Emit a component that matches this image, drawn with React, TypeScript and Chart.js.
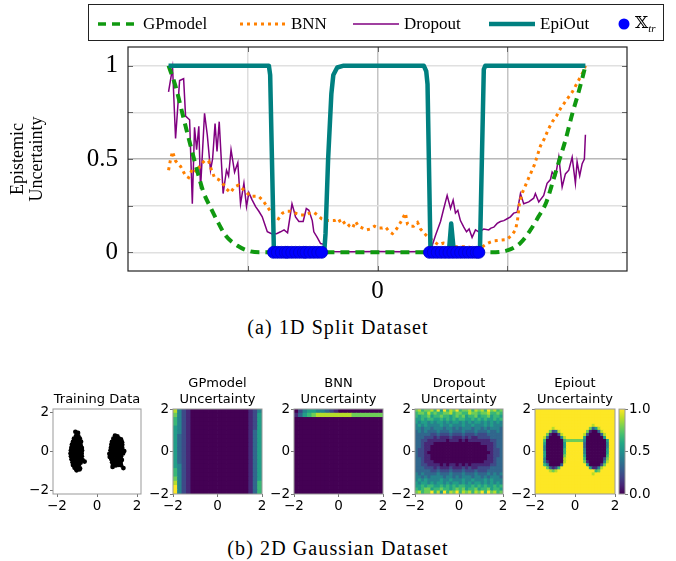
import React, { useEffect, useRef } from 'react';
import { Chart, registerables } from 'chart.js';
Chart.register(...registerables);

// ---------------- Top chart data (x in plot units, y = epistemic uncertainty) ----------------
const GP_X = [-1.608, -1.554, -1.5, -1.438, -1.385, -1.338, -1.285, -1.223, -1.169, -1.077, -0.977, -0.885, 0, 0.79, 0.869, 1.0, 1.1, 1.177, 1.238, 1.3, 1.354, 1.4, 1.446, 1.5, 1.538, 1.577, 1.6];
const GP_Y = [1.0, 0.89, 0.74, 0.57, 0.43, 0.32, 0.24, 0.155, 0.09, 0.035, 0.005, 0, 0, 0, 0, 0.01, 0.05, 0.12, 0.19, 0.27, 0.39, 0.495, 0.6, 0.745, 0.835, 0.935, 1.0];

const BNN_X = [-1.608, -1.592, -1.577, -1.554, -1.515, -1.477, -1.454, -1.423, -1.392, -1.362, -1.331, -1.3, -1.277, -1.254, -1.223, -1.192, -1.162, -1.131, -1.1, -1.069, -1.038, -1.008, -0.977, -0.946, -0.915, -0.885, -0.854, -0.823, -0.792, -0.762, -0.731, -0.7, -0.669, -0.631, -0.592, -0.554, -0.523, -0.492, -0.462, -0.431, -0.392, -0.362, -0.331, -0.3, -0.277, -0.246, -0.215, -0.192, -0.169, -0.146, -0.115, -0.085, -0.054, -0.023, 0.008, 0.038, 0.062, 0.092, 0.115, 0.146, 0.177, 0.2, 0.215, 0.231, 0.254, 0.277, 0.308, 0.331, 0.362, 0.392, 0.431, 0.469, 0.508, 0.546, 0.6, 0.654, 0.7, 0.738, 0.777, 0.808, 0.838, 0.869, 0.9, 0.946, 0.992, 1.031, 1.062, 1.077, 1.092, 1.115, 1.146, 1.177, 1.208, 1.231, 1.254, 1.285, 1.315, 1.346, 1.377, 1.408, 1.438, 1.469, 1.5, 1.531, 1.562, 1.585, 1.6];
const BNN_Y = [0.44, 0.5, 0.54, 0.49, 0.46, 0.41, 0.4, 0.45, 0.43, 0.47, 0.49, 0.49, 0.44, 0.4, 0.39, 0.37, 0.34, 0.32, 0.35, 0.36, 0.34, 0.32, 0.3, 0.3, 0.3, 0.28, 0.25, 0.22, 0.19, 0.18, 0.21, 0.22, 0.22, 0.21, 0.2, 0.2, 0.21, 0.215, 0.2, 0.18, 0.17, 0.17, 0.17, 0.18, 0.15, 0.165, 0.14, 0.13, 0.165, 0.14, 0.13, 0.12, 0.125, 0.14, 0.13, 0.13, 0.135, 0.11, 0.1, 0.125, 0.16, 0.19, 0.21, 0.15, 0.14, 0.14, 0.16, 0.125, 0.1, 0.08, 0.06, 0.04, 0.05, 0.045, 0.03, 0.03, 0.03, 0.02, 0.025, 0.03, 0.045, 0.055, 0.062, 0.065, 0.068, 0.09, 0.12, 0.17, 0.26, 0.32, 0.37, 0.42, 0.47, 0.52, 0.57, 0.61, 0.66, 0.7, 0.73, 0.77, 0.8, 0.83, 0.86, 0.9, 0.94, 0.97, 1.0];

const DROP_X = [-1.608, -1.577, -1.554, -1.523, -1.492, -1.477, -1.446, -1.425, -1.408, -1.392, -1.375, -1.362, -1.331, -1.31, -1.285, -1.269, -1.25, -1.235, -1.218, -1.188, -1.162, -1.146, -1.127, -1.1, -1.075, -1.054, -1.028, -1.008, -0.99, -0.964, -0.938, -0.913, -0.887, -0.848, -0.815, -0.777, -0.746, -0.719, -0.692, -0.658, -0.642, -0.631, -0.605, -0.572, -0.548, -0.528, -0.502, -0.49, -0.464, -0.438, -0.413, -0.392, -0.2, 0.0, 0.2, 0.392, 0.408, 0.446, 0.485, 0.51, 0.536, 0.562, 0.582, 0.6, 0.618, 0.638, 0.664, 0.685, 0.705, 0.728, 0.754, 0.779, 0.818, 0.856, 0.873, 0.895, 0.921, 0.946, 0.972, 0.998, 1.023, 1.048, 1.075, 1.1, 1.125, 1.164, 1.202, 1.215, 1.241, 1.279, 1.305, 1.331, 1.344, 1.369, 1.395, 1.421, 1.446, 1.472, 1.498, 1.523, 1.536, 1.556, 1.575, 1.592, 1.6];
const DROP_Y = [0.86, 0.99, 0.61, 0.92, 0.93, 0.73, 0.71, 0.26, 0.67, 0.55, 0.675, 0.34, 0.745, 0.63, 0.44, 0.5, 0.69, 0.54, 0.7, 0.315, 0.44, 0.41, 0.55, 0.43, 0.48, 0.26, 0.37, 0.245, 0.32, 0.28, 0.245, 0.22, 0.19, 0.11, 0.1, 0.1, 0.11, 0.12, 0.105, 0.26, 0.22, 0.19, 0.165, 0.165, 0.235, 0.225, 0.17, 0.11, 0.08, 0.047, 0.043, 0.005, 0.003, 0.004, 0.003, 0.004, 0.01, 0.09, 0.165, 0.235, 0.305, 0.235, 0.28, 0.21, 0.225, 0.17, 0.135, 0.11, 0.125, 0.08, 0.12, 0.11, 0.125, 0.12, 0.13, 0.135, 0.155, 0.165, 0.17, 0.18, 0.19, 0.21, 0.215, 0.315, 0.26, 0.27, 0.29, 0.315, 0.27, 0.305, 0.37, 0.39, 0.43, 0.405, 0.51, 0.35, 0.42, 0.44, 0.51, 0.37, 0.485, 0.41, 0.475, 0.5, 0.63];

const EPI_X = [-1.608, -0.836, -0.826, -0.797, -0.41, -0.4, -0.38, -0.355, -0.34, -0.31, -0.26, 0.356, 0.375, 0.385, 0.408, 0.549, 0.567, 0.588, 0.788, 0.818, 0.83, 1.6];
const EPI_Y = [1, 1, 0.95, 0, 0, 0.1, 0.5, 0.85, 0.95, 0.99, 1, 1, 0.97, 0.9, 0, 0, 0.154, 0, 0, 0.98, 1, 1];

const TRAIN_1D_X = [-0.8, -0.77, -0.74, -0.71, -0.69, -0.66, -0.63, -0.6, -0.57, -0.55, -0.52, -0.49, -0.46, -0.43, 0.4, 0.43, 0.46, 0.49, 0.52, 0.55, 0.58, 0.61, 0.64, 0.67, 0.7, 0.73, 0.76, 0.78];

const TOP_X_TICKS = [-1, 0, 1];
const TOP_Y_TICKS = [0, 0.25, 0.5, 0.75, 1];
const TOP_Y_LABELS: Record<string, string> = { '0': '0', '0.5': '0.5', '1': '1' };

// ---------------- 2D panels ----------------
const TRAIN2D_X = [-1.05, -0.93, -1.15, -1.0, -0.86, -1.2, -1.06, -0.92, -0.8, -1.25, -1.1, -0.96, -0.82, -1.28, -1.13, -0.98, -0.84, -0.76, -1.3, -1.15, -1.0, -0.86, -0.75, -1.32, -1.17, -1.02, -0.88, -0.77, -1.3, -1.15, -1.0, -0.86, -0.76, -1.27, -1.12, -0.97, -0.83, -0.72, -1.22, -1.08, -0.94, -0.82, -0.62, -1.2, -1.05, -0.9, -1.12, -0.98, -0.85, -1.08, -0.95, -1.02, -0.88,
  0.9, 1.02, 0.82, 0.96, 1.1, 1.2, 0.75, 0.88, 1.02, 1.16, 1.25, 0.72, 0.86, 1.0, 1.14, 1.26, 0.7, 0.84, 0.98, 1.12, 1.26, 0.68, 0.82, 0.96, 1.1, 1.24, 1.36, 0.62, 0.76, 0.9, 1.04, 1.18, 1.3, 0.64, 0.78, 0.92, 1.06, 1.2, 0.72, 0.86, 1.0, 1.14, 1.24, 0.76, 0.9, 1.04, 1.18, 0.8, 0.94, 1.08, 1.2, 0.78, 1.32];
const TRAIN2D_Y = [0.8, 0.78, 0.66, 0.64, 0.67, 0.5, 0.52, 0.49, 0.51, 0.36, 0.34, 0.37, 0.33, 0.2, 0.22, 0.19, 0.21, 0.18, 0.06, 0.04, 0.07, 0.03, 0.05, -0.1, -0.12, -0.08, -0.11, -0.09, -0.25, -0.27, -0.23, -0.26, -0.24, -0.4, -0.42, -0.38, -0.41, -0.45, -0.55, -0.57, -0.54, -0.58, -0.52, -0.7, -0.72, -0.69, -0.84, -0.86, -0.88, 1.02, 0.96, -0.97, -0.93,
  0.82, 0.78, 0.66, 0.64, 0.67, 0.62, 0.5, 0.52, 0.49, 0.51, 0.48, 0.36, 0.34, 0.37, 0.33, 0.35, 0.2, 0.22, 0.19, 0.21, 0.18, 0.06, 0.04, 0.07, 0.03, 0.05, 0.02, -0.12, -0.1, -0.08, -0.11, -0.09, -0.1, -0.28, -0.25, -0.23, -0.26, -0.24, -0.4, -0.42, -0.38, -0.41, -0.44, -0.55, -0.57, -0.54, -0.58, -0.7, -0.72, -0.69, -0.71, -0.8, -0.86];

// uncertainty grids, rows from y=+2 (top) to y=-2 (bottom), columns from x=-2 to x=+2, digit d = d/9
const GP_GRID = [
  '84210000000000000124',
  '74210000000000000125',
  '64210000000000000125',
  '64210000000000000125',
  '54210000000000000125',
  '54210000000000000135',
  '53210000000000000135',
  '53210000000000000135',
  '53210000000000000135',
  '53210000000000000135',
  '53210000000000000135',
  '53210000000000000135',
  '53210000000000000135',
  '54210000000000000135',
  '64210000000000000135',
  '64210000000000000135',
  '74210000000000000135',
  '84210000000000000136',
  '94210000000000000136',
  '94210000000000000136',
];
const BNN_GRID = [
  '02455443210000000000',
  '13567888888887777777',
  '00000000000000000000',
  '00000000000000000000',
  '00000000000000000000',
  '00000000000000000000',
  '00000000000000000000',
  '00000000000000000000',
  '00000000000000000000',
  '00000000000000000000',
  '00000000000000000000',
  '00000000000000000000',
  '00000000000000000000',
  '00000000000000000000',
  '00000000000000000000',
  '00000000000000000000',
  '00000000000000000000',
  '00000000000000000000',
  '00000000000000000000',
  '00000000000000000000',
];
const DROP_GRID = [
  '7867786959687967786878697867',
  '6776867667786776687767786676',
  '6566756676656767566756675665',
  '5565665565656566556565655656',
  '5455454554545545454554545454',
  '4545444454454445445444545444',
  '4434434443443434443443434443',
  '3434333433343334333433343343',
  '3333322322232223222322233333',
  '3332221211121112121122223333',
  '3322111111011101011111112233',
  '3321110000000000000001111233',
  '3321100000000000000000011233',
  '3221100000000000000000011223',
  '3221000000000000000000001223',
  '3221100000000000000000011223',
  '3321100000000000000000011233',
  '3321110000000000000000111233',
  '3322111101011010101111112233',
  '3332221211121112121122223333',
  '3333322322232223222322233333',
  '4343333433343334333433343434',
  '4434344443443434443443434443',
  '4545444454454445445444545444',
  '5455454554545545454554545454',
  '5565665565656566556565655656',
  '6567756676656767566756675665',
  '7867796859687968786879697867',
];
const EPI_GRID = [
  '9999999999999999999999999999',
  '9999999999999999999999999999',
  '9999999999999999999999999999',
  '9999999999999999999999999999',
  '9999999999999999999999999999',
  '9999999999999999999989999999',
  '9999998999999999999735899999',
  '9999972389999999997100389999',
  '9999710028999999982000038999',
  '9998300004899999950000005999',
  '9996000000677777740000000599',
  '9995000000599999930000000499',
  '9994000000599999930000000499',
  '9994000000699999940000000599',
  '9995000000699999940000000599',
  '9995000000799999950000000699',
  '9994000000899999960000002799',
  '9994100000899999971000004899',
  '9996400003999999995000027999',
  '9999731269999999999511489999',
  '9999987899999999999996799999',
  '9999999999999999999989999999',
  '9999999999999999999999999999',
  '9999999999999999999999999999',
  '9999999999999999999999999999',
  '9999999999999999999999999999',
  '9999999999999999999999999999',
  '9999999999999999999999999999',
];
const PANEL_TICKS = [-2, 0, 2];
const CBAR_TICKS = [0, 0.5, 1];

// ---------------- styles ----------------
const VIRIDIS = ['#440154', '#482475', '#414487', '#355f8d', '#2a788e', '#21918c', '#22a884', '#44bf70', '#7ad151', '#bddf26', '#fde725'];
function hexToRgb(h: string) { return [parseInt(h.slice(1, 3), 16), parseInt(h.slice(3, 5), 16), parseInt(h.slice(5, 7), 16)]; }
function viridis(t: number) {
  const p = Math.max(0, Math.min(1, t)) * 10;
  const i = Math.min(9, Math.floor(p));
  const f = p - i;
  const a = hexToRgb(VIRIDIS[i]), b = hexToRgb(VIRIDIS[i + 1]);
  const c = a.map((v, k) => Math.round(v + (b[k] - v) * f));
  return `rgb(${c[0]},${c[1]},${c[2]})`;
}

const SERIF = "'Liberation Serif', 'DejaVu Serif', serif";
const SANS = "'DejaVu Sans', sans-serif";
const GREEN = '#109910', ORANGE = '#ff8000', PURPLE = '#800080', TEAL = '#008080', BLUE = '#0000ff';

const zip = (xs: number[], ys: number[]) => xs.map((x, i) => ({ x, y: ys[i] }));
const minus = (v: number) => (v < 0 ? '\u2212' + Math.abs(v) : String(v));

const framePlugin = {
  id: 'frame',
  afterDatasetsDraw(chart: any, _a: any, opts: any) {
    const { ctx, chartArea: a, scales } = chart;
    ctx.save();
    if (opts.tickLen) {
      ctx.strokeStyle = opts.tickColor || '#666';
      ctx.lineWidth = 1;
      ctx.beginPath();
      (opts.xTicks || []).forEach((v: number) => {
        const px = Math.round(scales.x.getPixelForValue(v)) + 0.5;
        ctx.moveTo(px, a.top); ctx.lineTo(px, a.top + opts.tickLen);
        ctx.moveTo(px, a.bottom); ctx.lineTo(px, a.bottom - opts.tickLen);
      });
      (opts.yTicks || []).forEach((v: number) => {
        const py = Math.round(scales.y.getPixelForValue(v)) + 0.5;
        ctx.moveTo(a.left, py); ctx.lineTo(a.left + opts.tickLen, py);
        ctx.moveTo(a.right, py); ctx.lineTo(a.right - opts.tickLen, py);
      });
      ctx.stroke();
    }
    ctx.strokeStyle = opts.color || '#000';
    ctx.lineWidth = opts.width || 1;
    ctx.strokeRect(a.left, a.top, a.width, a.height);
    ctx.restore();
  },
};

const cbarPlugin = {
  id: 'cbar',
  beforeDatasetsDraw(chart: any) {
    const { ctx, chartArea: a, scales } = chart;
    const y0 = scales.y.getPixelForValue(0), y1 = scales.y.getPixelForValue(1);
    const g = ctx.createLinearGradient(0, y0, 0, y1);
    VIRIDIS.forEach((c, i) => g.addColorStop(i / 10, c));
    ctx.save();
    ctx.fillStyle = g;
    ctx.fillRect(a.left, y1, a.width, y0 - y1);
    ctx.restore();
  },
};

function gridPoints(grid: string[]) {
  const pts: { x: number; y: number }[] = [];
  const cols: string[] = [];
  const n = grid.length, m = grid[0].length;
  grid.forEach((row, r) => {
    for (let c = 0; c < m; c++) {
      pts.push({ x: -2 + (c + 0.5) * (4 / m), y: 2 - (r + 0.5) * (4 / n) });
      cols.push(viridis(parseInt(row[c] ?? '9', 10) / 9));
    }
  });
  return { pts, cols, n, m };
}

type PanelSpec = {
  title: string[];
  left: number; right: number;
  grid?: string[];
  range: number;
};

const PANELS: PanelSpec[] = [
  { title: ['Training Data'], left: 53, right: 141, range: 2.2 },
  { title: ['GPmodel', 'Uncertainty'], left: 173, right: 262, range: 2, grid: GP_GRID },
  { title: ['BNN', 'Uncertainty'], left: 294, right: 383, range: 2, grid: BNN_GRID },
  { title: ['Dropout', 'Uncertainty'], left: 415, right: 503, range: 2, grid: DROP_GRID },
  { title: ['Epiout', 'Uncertainty'], left: 535, right: 615, range: 2, grid: EPI_GRID },
];
const PANEL_TOP = 409, PANEL_BOTTOM = 494, PANEL_CANVAS_TOP = 372, PANEL_SIDE = 32, PANEL_XAXIS_H = 22;

function panelConfig(p: PanelSpec): any {
  let dataset: any;
  if (p.grid) {
    const g = gridPoints(p.grid);
    dataset = {
      type: 'scatter', data: g.pts, backgroundColor: g.cols, borderWidth: 0, pointStyle: 'rect',
      pointRadius: (ctx: any) => {
        const a = ctx.chart.chartArea;
        if (!a) return 3;
        return (Math.max(a.width / g.m, a.height / g.n) + 0.7) / Math.SQRT2;
      },
      clip: 0,
    };
  } else {
    dataset = { type: 'scatter', data: zip(TRAIN2D_X, TRAIN2D_Y), backgroundColor: '#000', borderWidth: 0, pointRadius: 2.4, clip: 0 };
  }
  const lines = p.title.length;
  const titleH = lines * 13 * 1.2 + 2;
  const axis = (isX: boolean) => ({
    type: 'linear', min: -p.range, max: p.range,
    afterBuildTicks: (s: any) => { s.ticks = PANEL_TICKS.map((v) => ({ value: v })); },
    ticks: { callback: (v: any) => minus(v), font: { family: SANS, size: 13.5 }, color: '#000', padding: 1, maxRotation: 0, autoSkip: false },
    grid: { drawOnChartArea: false, drawTicks: true, tickLength: 3, color: '#777' },
    border: { display: false },
    afterFit: (s: any) => { if (isX) s.height = PANEL_XAXIS_H; else s.width = PANEL_SIDE; },
  });
  return {
    type: 'scatter',
    data: { datasets: [dataset] },
    options: {
      animation: false, responsive: false, events: [],
      layout: { padding: { top: PANEL_TOP - PANEL_CANVAS_TOP - titleH, right: 0, left: 0, bottom: 0 } },
      plugins: {
        legend: { display: false }, tooltip: { enabled: false },
        title: { display: true, text: p.title, font: { family: SANS, size: 13, weight: 'normal', lineHeight: 1.2 }, color: '#000', padding: { top: 0, bottom: 2 } },
        frame: { color: '#999', width: 1 },
      },
      scales: {
        x: axis(true),
        y: axis(false),
        yRightSpace: {
          position: 'right', display: true, min: 0, max: 1,
          ticks: { display: false }, grid: { display: false }, border: { display: false },
          afterFit: (s: any) => { s.width = PANEL_SIDE; },
        },
      },
    },
    plugins: [framePlugin],
  };
}

function topConfig(): any {
  return {
    type: 'line',
    data: {
      datasets: [
        { label: 'X_tr', type: 'scatter', data: TRAIN_1D_X.map((x) => ({ x, y: 0 })), backgroundColor: BLUE, borderColor: '#0000c8', borderWidth: 0.8, pointRadius: 6, order: 0 },
        { label: 'EpiOut', data: zip(EPI_X, EPI_Y), borderColor: TEAL, borderWidth: 4.5, pointRadius: 0, fill: false, borderJoinStyle: 'round', order: 1 },
        { label: 'GPmodel', data: zip(GP_X, GP_Y), borderColor: GREEN, borderWidth: 4, borderDash: [9, 6], pointRadius: 0, fill: false, cubicInterpolationMode: 'monotone', order: 2 },
        { label: 'BNN', data: zip(BNN_X, BNN_Y), borderColor: ORANGE, borderWidth: 3, borderDash: [3, 4], pointRadius: 0, fill: false, order: 3 },
        { label: 'Dropout', data: zip(DROP_X, DROP_Y), borderColor: PURPLE, borderWidth: 1.5, pointRadius: 0, fill: false, order: 4 },
      ],
    },
    options: {
      animation: false, responsive: false, events: [],
      layout: { padding: { top: 47, right: 49, left: 0, bottom: 0 } },
      plugins: {
        legend: { display: false }, tooltip: { enabled: false },
        frame: { color: '#222', width: 1.2, tickLen: 5, tickColor: '#666', xTicks: TOP_X_TICKS, yTicks: TOP_Y_TICKS },
      },
      scales: {
        x: {
          type: 'linear', min: -1.92, max: 1.92,
          afterBuildTicks: (s: any) => { s.ticks = TOP_X_TICKS.map((v) => ({ value: v })); },
          ticks: { callback: (v: any) => (v === 0 ? '0' : ''), font: { family: SERIF, size: 25 }, color: '#000', padding: 5, maxRotation: 0, autoSkip: false },
          grid: { drawTicks: false, lineWidth: 1.5, color: (c: any) => (c.tick && c.tick.value === -1 ? '#dedede' : '#c4c4c4') },
          border: { display: false },
          afterFit: (s: any) => { s.height = 39; },
        },
        y: {
          min: -0.1, max: 1.1,
          afterBuildTicks: (s: any) => { s.ticks = TOP_Y_TICKS.map((v) => ({ value: v })); },
          ticks: { callback: (v: any) => TOP_Y_LABELS[String(v)] ?? '', font: { family: SERIF, size: 25 }, color: '#000', padding: 10, autoSkip: false },
          grid: { drawTicks: false, lineWidth: 1.5, color: (c: any) => (c.tick && c.tick.value === 0.5 ? '#b8b8b8' : '#e0e0e0') },
          border: { display: false },
          title: { display: true, text: ['Epistemic', 'Uncertainty'], font: { family: SERIF, size: 18, lineHeight: 1.1 }, color: '#000', padding: { top: 8, bottom: 0 } },
          afterFit: (s: any) => { s.width = 128; },
        },
      },
    },
    plugins: [framePlugin],
  };
}

function cbarConfig(): any {
  return {
    type: 'scatter',
    data: { datasets: [] },
    options: {
      animation: false, responsive: false, events: [],
      layout: { padding: { top: 9, left: 7, bottom: 16, right: 0 } },
      plugins: { legend: { display: false }, tooltip: { enabled: false }, frame: { color: '#999', width: 1 } },
      scales: {
        x: { display: false, min: 0, max: 1 },
        y: {
          position: 'right', min: 0, max: 1,
          afterBuildTicks: (s: any) => { s.ticks = CBAR_TICKS.map((v) => ({ value: v })); },
          ticks: { callback: (v: any) => Number(v).toFixed(1), font: { family: SANS, size: 13.5 }, color: '#000', padding: 1, autoSkip: false },
          grid: { drawOnChartArea: false, drawTicks: true, tickLength: 3, color: '#777' },
          border: { display: false },
          afterFit: (s: any) => { s.width = 51; },
        },
      },
    },
    plugins: [cbarPlugin, framePlugin],
  };
}

const abs = (l: number, t: number, w: number, h: number): React.CSSProperties => ({ position: 'absolute', left: l, top: t, width: w, height: h });

function LegendItem({ x, sample, label }: { x: number; sample: React.ReactNode; label: React.ReactNode }) {
  return (
    <div style={{ position: 'absolute', left: x, top: 0, height: 37, display: 'flex', alignItems: 'center', whiteSpace: 'nowrap' }}>
      {sample}
      <span style={{ marginLeft: 5 }}>{label}</span>
    </div>
  );
}

export default function App() {
  const topRef = useRef<HTMLCanvasElement>(null);
  const panelRefs = useRef<(HTMLCanvasElement | null)[]>([]);
  const cbarRef = useRef<HTMLCanvasElement>(null);

  useEffect(() => {
    const charts: Chart[] = [];
    if (topRef.current) charts.push(new Chart(topRef.current, topConfig()));
    PANELS.forEach((p, i) => {
      const c = panelRefs.current[i];
      if (c) charts.push(new Chart(c, panelConfig(p)));
    });
    if (cbarRef.current) charts.push(new Chart(cbarRef.current, cbarConfig()));
    return () => charts.forEach((c) => c.destroy());
  }, []);

  const line = (w: number, color: string, width: number, dash?: string, cap: 'butt' | 'round' = 'butt') => (
    <svg width={w} height={10} style={{ display: 'block' }}>
      <line x1={0} y1={5} x2={w} y2={5} stroke={color} strokeWidth={width} strokeDasharray={dash} strokeLinecap={cap} />
    </svg>
  );

  return (
    <div style={{ position: 'absolute', left: 0, top: 0, width: 676, height: 561, background: '#fff', overflow: 'hidden' }}>
      <canvas ref={topRef} width={676} height={310} style={abs(0, 0, 676, 310)} />
      <div style={{ ...abs(88, 4, 576, 37), border: '1px solid #222', boxSizing: 'border-box', background: '#fff', fontFamily: SERIF, fontSize: 17, color: '#000' }}>
        <LegendItem x={9} sample={line(40, GREEN, 3.5, '8 6')} label="GPmodel" />
        <LegendItem x={151} sample={line(46, ORANGE, 3, '3 4')} label="BNN" />
        <LegendItem x={264} sample={line(46, PURPLE, 1.5)} label="Dropout" />
        <LegendItem x={400} sample={line(46, TEAL, 4.5)} label="EpiOut" />
        <LegendItem
          x={529}
          sample={<svg width={12} height={12} style={{ display: 'block' }}><circle cx={6} cy={6} r={5.5} fill={BLUE} /></svg>}
          label={<span>𝕏<sub style={{ fontStyle: 'italic', fontSize: 11 }}>tr</sub></span>}
        />
      </div>
      <div style={{ ...abs(0, 314, 676, 26), textAlign: 'center', fontFamily: SERIF, fontSize: 20, letterSpacing: 1.1, lineHeight: '26px', color: '#000' }}>(a) 1D Split Dataset</div>
      {PANELS.map((p, i) => {
        const w = p.right - p.left + 2 * PANEL_SIDE;
        const h = PANEL_BOTTOM - PANEL_CANVAS_TOP + PANEL_XAXIS_H;
        return (
          <canvas key={i} ref={(el) => { panelRefs.current[i] = el; }} width={w} height={h} style={abs(p.left - PANEL_SIDE, PANEL_CANVAS_TOP, w, h)} />
        );
      })}
      <canvas ref={cbarRef} width={64} height={110} style={abs(612, 400, 64, 110)} />
      <div style={{ ...abs(0, 535, 676, 26), textAlign: 'center', fontFamily: SERIF, fontSize: 20, letterSpacing: 1.1, lineHeight: '26px', color: '#000' }}>(b) 2D Gaussian Dataset</div>
    </div>
  );
}
